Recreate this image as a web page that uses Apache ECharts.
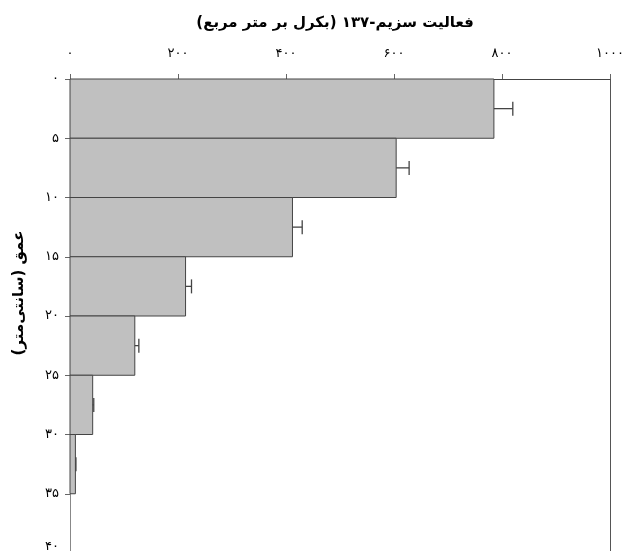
<!DOCTYPE html>
<html>
<head>
<meta charset="utf-8">
<script src="https://cdn.jsdelivr.net/npm/echarts@6/dist/echarts.min.js"></script>
<style>
html,body{margin:0;padding:0;background:#fff;}
#chart{width:623px;height:551px;}
</style>
</head>
<body>
<div id="chart"></div>
<script>
// Depth intervals (cm)
const depthTop = [0, 5, 10, 15, 20, 25, 30];
const depthBottom = [5, 10, 15, 20, 25, 30, 35];
// Cs-137 activity (Bq/m2) and positive error
const activity = [785, 604, 412, 214, 120, 42, 10];
const errorPlus = [35, 24, 18, 11, 7.5, 2, 1];
// Tick labels
const xTickValues = [0, 200, 400, 600, 800, 1000];
const xTickLabels = ['۰', '۲۰۰', '۴۰۰', '۶۰۰', '۸۰۰', '۱۰۰۰'];
const yTickValues = [0, 5, 10, 15, 20, 25, 30, 35, 40];
const yTickLabels = ['۰', '۵', '۱۰', '۱۵', '۲۰', '۲۵', '۳۰', '۳۵', '۴۰'];
const xTitle = 'فعالیت سزیم-۱۳۷ (بکرل بر متر مربع)';
const yTitle = 'عمق (سانتی‌متر)';

const barData = depthTop.map((t, i) => [t, depthBottom[i], activity[i]]);
const errData = depthTop.map((t, i) => [(t + depthBottom[i]) / 2, activity[i], activity[i] + errorPlus[i]]);

const font = 'DejaVu Sans';
const chart = echarts.init(document.getElementById('chart'), null, {renderer: 'canvas'});
chart.setOption({
  animation: false,
  backgroundColor: '#fff',
  grid: {left: 70, right: 13, top: 79, bottom: -2, containLabel: false, outerBoundsMode: 'none'},
  xAxis: {
    type: 'value', position: 'top', min: 0, max: 1000, interval: 200,
    name: xTitle, nameLocation: 'middle', nameGap: 48,
    nameTextStyle: {fontFamily: font, fontWeight: 'bold', fontSize: 15, color: '#000', padding: [0, 10, 0, 0]},
    axisLine: {show: true, lineStyle: {color: '#444', width: 1}},
    axisTick: {show: true, length: 5, lineStyle: {color: '#666'}},
    axisLabel: {
      fontFamily: font, fontSize: 13, color: '#000', margin: 19,
      formatter: v => { const i = xTickValues.indexOf(v); return i >= 0 ? xTickLabels[i] : ''; }
    },
    splitLine: {show: false}
  },
  yAxis: [{
    type: 'value', inverse: true, min: 0, max: 40, interval: 5,
    name: yTitle, nameLocation: 'middle', nameGap: 43, nameRotate: 90,
    nameTextStyle: {fontFamily: font, fontWeight: 'bold', fontSize: 15, color: '#000', padding: [0, 0, 0, 46]},
    axisLine: {show: true, lineStyle: {color: '#888', width: 1}},
    axisTick: {show: true, length: 5, lineStyle: {color: '#666'}},
    axisLabel: {
      fontFamily: font, fontSize: 13, color: '#000', margin: 11,
      formatter: v => {
        const i = yTickValues.indexOf(v);
        if (i < 0) return '';
        return v === 40 ? '{b|' + yTickLabels[i] + '}' : yTickLabels[i];
      },
      rich: {b: {fontFamily: font, fontSize: 13, color: '#000', padding: [0, 0, 12, 0]}}
    },
    splitLine: {show: false}
  }, {
    type: 'value', inverse: true, min: 0, max: 40, position: 'right',
    axisLine: {show: true, onZero: false, lineStyle: {color: '#555', width: 1}},
    axisTick: {show: false}, axisLabel: {show: false}, splitLine: {show: false}
  }],
  series: [{
    type: 'custom',
    coordinateSystem: 'cartesian2d',
    encode: {x: 2, y: [0, 1]},
    data: barData,
    renderItem: (params, api) => {
      const p1 = api.coord([0, api.value(0)]);
      const p2 = api.coord([api.value(2), api.value(1)]);
      return {
        type: 'rect',
        shape: {x: p1[0], y: p1[1], width: p2[0] - p1[0], height: p2[1] - p1[1]},
        style: {fill: '#c0c0c0', stroke: '#444', lineWidth: 1}
      };
    }
  }, {
    type: 'custom',
    coordinateSystem: 'cartesian2d',
    encode: {x: [1, 2], y: 0},
    data: errData,
    renderItem: (params, api) => {
      const a = api.coord([api.value(1), api.value(0)]);
      const b = api.coord([api.value(2), api.value(0)]);
      const h = 7;
      return {
        type: 'group',
        children: [
          {type: 'line', shape: {x1: a[0], y1: a[1], x2: b[0], y2: b[1]}, style: {stroke: '#444', lineWidth: 1.3}},
          {type: 'line', shape: {x1: b[0], y1: b[1] - h, x2: b[0], y2: b[1] + h}, style: {stroke: '#444', lineWidth: 1.3}}
        ]
      };
    }
  }]
});
</script>
</body>
</html>
